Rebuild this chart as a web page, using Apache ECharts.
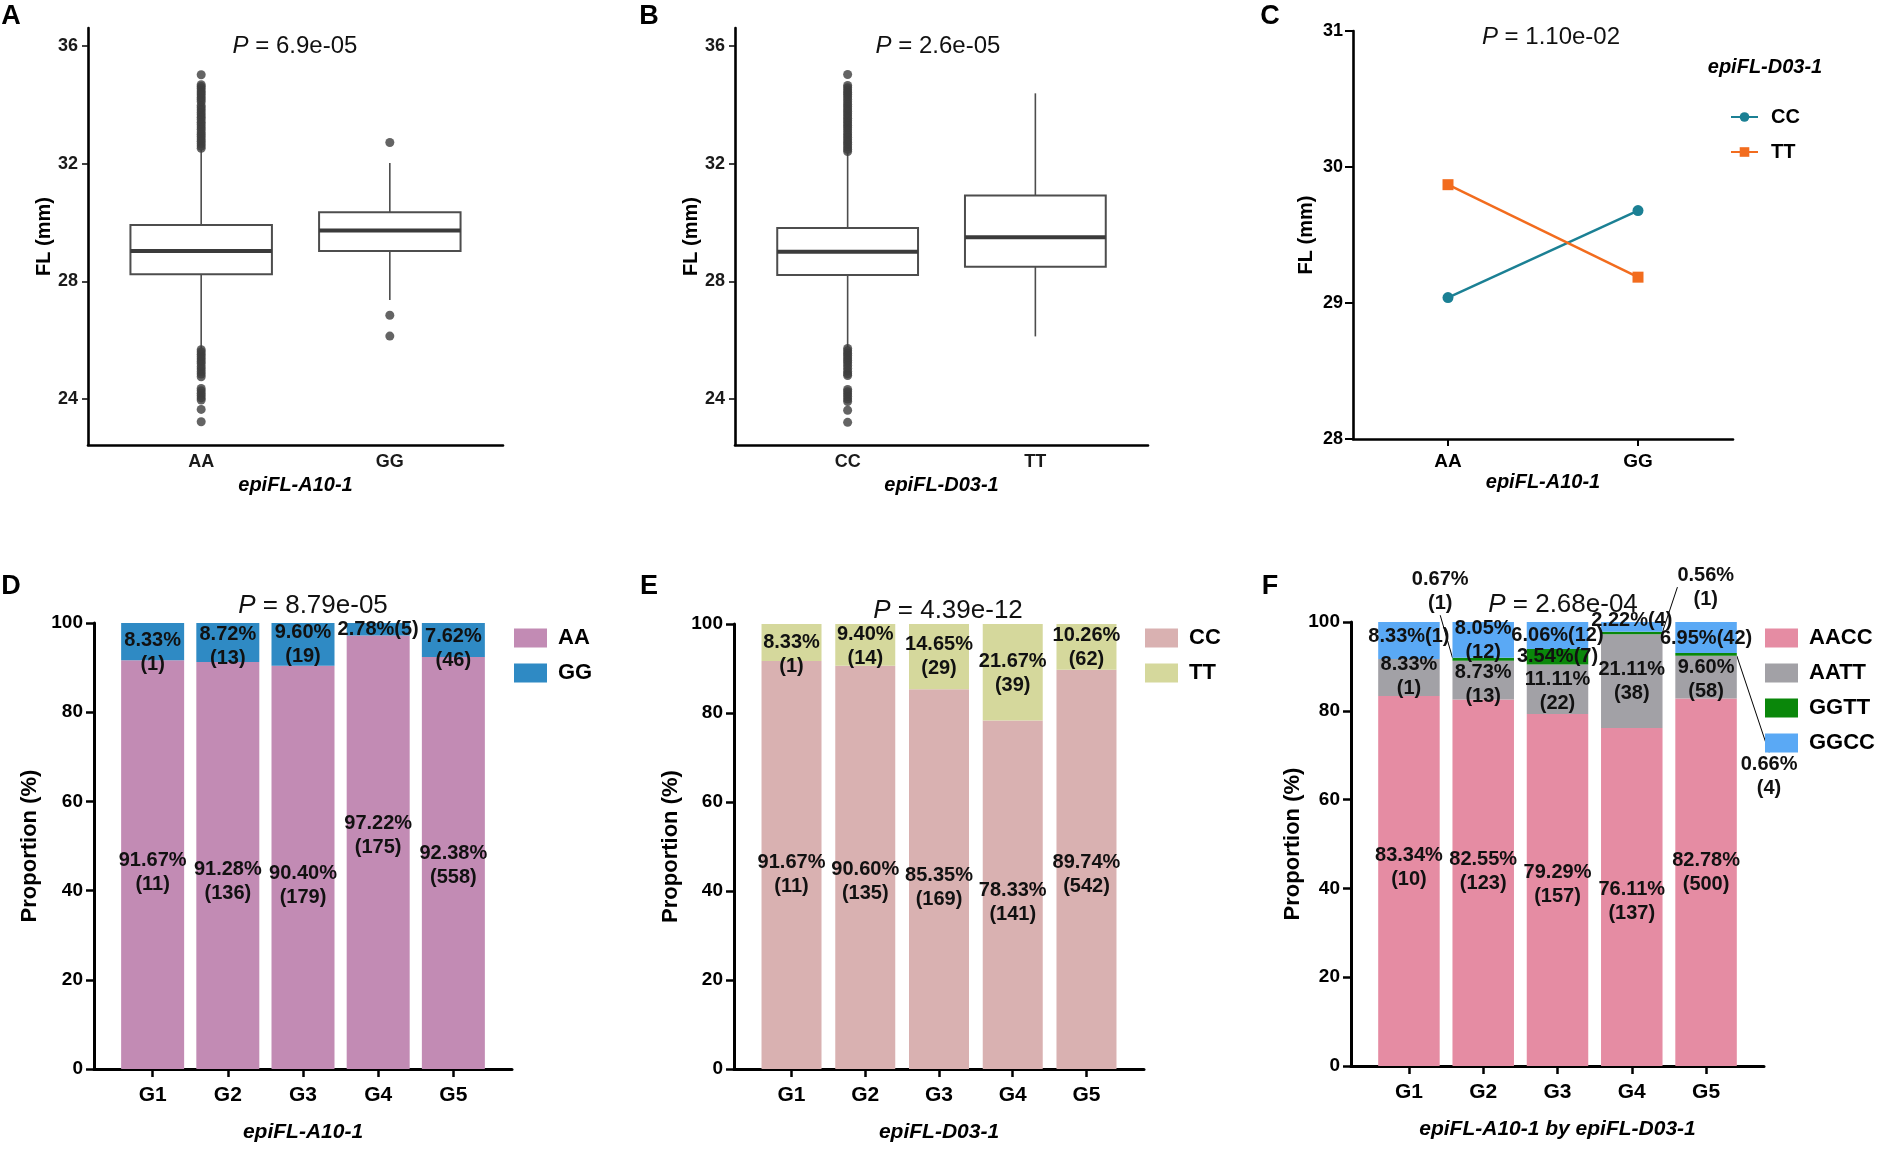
<!DOCTYPE html>
<html>
<head>
<meta charset="utf-8">
<script src="https://cdn.jsdelivr.net/npm/echarts@6/dist/echarts.min.js"></script>
<style>
  html, body { margin: 0; padding: 0; background: #fff; }
  #main { width: 1888px; height: 1152px; }
</style>
</head>
<body>
<div id="main"></div>
<script>
// ---- data ----
// A: FL by epiFL-A10-1 (boxplot stats: min whisker, Q1, median, Q3, max whisker)
const catsA = ['AA', 'GG'];
const boxA = [[25.73, 28.24, 29.03, 29.92, 32.47], [27.37, 29.03, 29.73, 30.35, 32.02]];
const outA_AA = [35.02, 34.68, 34.62, 34.55, 34.47, 34.40, 34.33, 34.25, 34.18, 34.10, 33.98, 33.90, 33.82,
  33.74, 33.66, 33.58, 33.50, 33.41, 33.33, 33.25, 33.17, 33.08, 33.00, 32.92, 32.84, 32.76, 32.68, 32.60, 32.52,
  25.68, 25.60, 25.52, 25.44, 25.36, 25.28, 25.20, 25.10, 25.02, 24.93, 24.85, 24.76,
  24.36, 24.28, 24.20, 24.12, 24.04, 23.97, 23.65, 23.23];
const outA_GG = [32.72, 26.85, 26.14];

// B: FL by epiFL-D03-1
const catsB = ['CC', 'TT'];
const boxB = [[25.77, 28.22, 29.01, 29.81, 32.38], [26.13, 28.50, 29.50, 30.92, 34.39]];
const outB_CC = [35.03, 34.66, 34.58, 34.50, 34.42, 34.35, 34.27, 34.19, 34.10, 34.02, 33.94, 33.86, 33.78,
  33.70, 33.62, 33.54, 33.46, 33.38, 33.30, 33.22, 33.14, 33.05, 32.97, 32.89, 32.81, 32.73, 32.65, 32.57, 32.49, 32.41,
  25.72, 25.64, 25.56, 25.48, 25.40, 25.32, 25.24, 25.15, 25.05, 24.95, 24.86, 24.80,
  24.33, 24.25, 24.17, 24.09, 24.00, 23.92, 23.62, 23.21];
const outB_TT = [];

// C: interaction means
const catsC = ['AA', 'GG'];
const meanCC = [29.04, 29.68];
const meanTT = [29.87, 29.19];

// D-F: proportions by group
const groups = ['G1', 'G2', 'G3', 'G4', 'G5'];
const pctAA = [91.67, 91.28, 90.40, 97.22, 92.38];
const cntAA = [11, 136, 179, 175, 558];
const pctGG = [8.33, 8.72, 9.60, 2.78, 7.62];
const cntGG = [1, 13, 19, 5, 46];

const pctCC = [91.67, 90.60, 85.35, 78.33, 89.74];
const cntCC = [11, 135, 169, 141, 542];
const pctTT = [8.33, 9.40, 14.65, 21.67, 10.26];
const cntTT = [1, 14, 29, 39, 62];

const pctAACC = [83.34, 82.55, 79.29, 76.11, 82.78];
const cntAACC = [10, 123, 157, 137, 500];
const pctAATT = [8.33, 8.73, 11.11, 21.11, 9.60];
const cntAATT = [1, 13, 22, 38, 58];
const pctGGTT = [0, 0.67, 3.54, 0.56, 0.66];
const cntGGTT = [0, 1, 7, 1, 4];
const pctGGCC = [8.33, 8.05, 6.06, 2.22, 6.95];
const cntGGCC = [1, 12, 12, 4, 42];

const pValues = ['6.9e-05', '2.6e-05', '1.10e-02', '8.79e-05', '4.39e-12', '2.68e-04'];

// ---- helpers ----
const FONT = "'Liberation Sans', Arial, Helvetica, sans-serif";
const xs = groups.map((g, i) => i + 1);
const X_MIN = 0.22, X_MAX = 5.78;

const chart = echarts.init(document.getElementById('main'), null, { renderer: 'canvas' });

function boxRows(stats) {
  return stats.map((s, i) => [i + 1].concat(s));
}
function outRows(x, vals) {
  return vals.map(v => [x, v]);
}
function renderBox(params, api) {
  const x = api.value(0);
  const lo = api.coord([x, api.value(1)]);
  const q1 = api.coord([x, api.value(2)]);
  const md = api.coord([x, api.value(3)]);
  const q3 = api.coord([x, api.value(4)]);
  const hi = api.coord([x, api.value(5)]);
  const half = api.size([0.75, 0])[0] / 2;
  const wStyle = { stroke: '#4d4d4d', lineWidth: 1.6 };
  return {
    type: 'group',
    children: [
      { type: 'line', shape: { x1: lo[0], y1: lo[1], x2: q1[0], y2: q1[1] }, style: wStyle },
      { type: 'line', shape: { x1: q3[0], y1: q3[1], x2: hi[0], y2: hi[1] }, style: wStyle },
      { type: 'rect', shape: { x: q3[0] - half, y: q3[1], width: half * 2, height: q1[1] - q3[1] },
        style: { fill: '#fff', stroke: '#4d4d4d', lineWidth: 2 } },
      { type: 'line', shape: { x1: md[0] - half, y1: md[1], x2: md[0] + half, y2: md[1] },
        style: { stroke: '#3b3b3b', lineWidth: 4 } }
    ]
  };
}
function pctLabel(pcts, counts, oneLine) {
  return p => {
    const i = p.dataIndex;
    if (!pcts[i]) return '';
    const a = pcts[i].toFixed(2) + '%';
    const b = '(' + counts[i] + ')';
    return oneLine.indexOf(i) >= 0 ? a + b : a + '\n' + b;
  };
}
const barLabelBase = {
  show: true, position: 'inside', color: '#111', fontFamily: FONT, fontWeight: 'bold',
  fontSize: 20, lineHeight: 24, textBorderWidth: 0
};
// vertical nudges (px) that put each bar label where the original figure has it
const nudge = {
  AA: [8, 16, 18, -17, 2], GG: [11, 4, 0, 0, 8],
  CC: [9, 14, 8, 8, 5], TT: [12, 2, 0, 1, 1],
  AACC: [-14, -11, -5, 4, -10], AATT: [-1, 4, 2, 0, 2], GGCC: [-4, 1, 0, -6, 1]
};
// callout shifts for the tiny GGTT segments in F
const calloutShift = { 1: [-43, -68], 3: [74, -46], 4: [63, 122] };
function nudgeLayout(key) {
  return p => {
    const c = calloutShift[p.dataIndex];
    if (key === 'GGTT') return c ? { dx: c[0], dy: c[1] } : {};
    return { dy: (nudge[key] || [])[p.dataIndex] || 0 };
  };
}
// bars live on a hidden category grid (index 6..8) laid over the visible panel grid
function barSeries(name, key, axis, stack, pcts, counts, color, width, oneLine, extra) {
  return Object.assign({
    type: 'bar', name: name, xAxisIndex: axis, yAxisIndex: axis, stack: stack,
    barWidth: width,
    data: pcts.slice(),
    itemStyle: { color: color },
    label: Object.assign({}, barLabelBase, { formatter: pctLabel(pcts, counts, oneLine) }),
    labelLayout: nudgeLayout(key),
    emphasis: { disabled: true }
  }, extra || {});
}

const tickStyle = { color: '#111', width: 1.6 };
function boxYAxis(idx) {
  return {
    gridIndex: idx, type: 'value', min: 22.44, max: 36.61,
    name: 'FL (mm)', nameLocation: 'middle', nameGap: 34,
    nameTextStyle: { fontFamily: FONT, fontWeight: 'bold', fontSize: 20, color: '#000' },
    axisLine: { show: true, onZero: false, lineStyle: { color: '#000', width: 2.6 } },
    axisTick: { show: true, length: 6, customValues: [24, 28, 32, 36], lineStyle: tickStyle },
    axisLabel: { customValues: [24, 28, 32, 36], fontFamily: FONT, fontWeight: 'bold', fontSize: 18, color: '#1a1a1a', margin: 10 },
    splitLine: { show: false }
  };
}
function boxXAxis(idx, cats, title) {
  return {
    gridIndex: idx, type: 'value', min: 0.4, max: 2.6,
    name: title, nameLocation: 'middle', nameGap: 30,
    nameTextStyle: { fontFamily: FONT, fontWeight: 'bold', fontStyle: 'italic', fontSize: 20, color: '#000' },
    axisLine: { show: true, onZero: false, lineStyle: { color: '#000', width: 2.6 } },
    axisTick: { show: false },
    axisLabel: { customValues: [1, 2], formatter: v => cats[Math.round(v) - 1], fontFamily: FONT, fontWeight: 'bold', fontSize: 18, color: '#1a1a1a', margin: 8 },
    splitLine: { show: false }
  };
}
function barYAxis(idx, gap) {
  return {
    gridIndex: idx, type: 'value', min: 0, max: 100, interval: 20,
    name: 'Proportion (%)', nameLocation: 'middle', nameGap: gap,
    nameTextStyle: { fontFamily: FONT, fontWeight: 'bold', fontSize: 22, color: '#000' },
    axisLine: { show: true, onZero: false, lineStyle: { color: '#000', width: 3 } },
    axisTick: { show: true, length: 8, lineStyle: { color: '#000', width: 2.5 } },
    axisLabel: { fontFamily: FONT, fontWeight: 'bold', fontSize: 19, color: '#000', margin: 11 },
    splitLine: { show: false }
  };
}
function barXAxis(idx, title) {
  return {
    gridIndex: idx, type: 'value', min: X_MIN, max: X_MAX,
    name: title, nameLocation: 'middle', nameGap: 53,
    nameTextStyle: { fontFamily: FONT, fontWeight: 'bold', fontStyle: 'italic', fontSize: 21, color: '#000' },
    axisLine: { show: true, onZero: false, lineStyle: { color: '#000', width: 3 } },
    axisTick: { show: true, length: 8, customValues: xs, lineStyle: { color: '#000', width: 2.5 } },
    axisLabel: { customValues: xs, formatter: v => groups[Math.round(v) - 1], fontFamily: FONT, fontWeight: 'bold', fontSize: 21, color: '#000', margin: 16 },
    splitLine: { show: false }
  };
}
function legendBox(left, names, colors) {
  return {
    left: left, top: 622, orient: 'vertical', icon: 'rect',
    itemWidth: 33, itemHeight: 19, itemGap: 13,
    data: names.map((n, i) => ({ name: n, itemStyle: { color: colors[i] } })),
    formatter: n => n.replace('E:', ''),
    selectedMode: false,
    textStyle: { fontFamily: FONT, fontWeight: 'bold', fontSize: 22, color: '#000', lineHeight: 19, padding: [0, 0, 0, 6] }
  };
}
function pText(x, y, val, size) {
  return {
    type: 'text', x: x, y: y,
    style: {
      text: '{i|P}{n| = ' + val + '}',
      align: 'center', verticalAlign: 'middle', textAlign: 'center', textVerticalAlign: 'middle',
      rich: {
        i: { fontStyle: 'italic', fontSize: size, fontFamily: FONT, fill: '#111' },
        n: { fontSize: size, fontFamily: FONT, fill: '#111' }
      }
    }
  };
}
function letter(x, y, t) {
  return {
    type: 'text', x: x, y: y,
    style: { text: t, font: 'bold 27px ' + FONT, fill: '#000', align: 'center', verticalAlign: 'middle',
      textAlign: 'center', textVerticalAlign: 'middle' }
  };
}

// visible panel grids for the bar charts, and the matching inner grid holding the bars
const barPanels = [
  { left: 94, width: 418, top: 623, bottom: 83 },
  { left: 734, width: 410, top: 624, bottom: 83 },
  { left: 1351, width: 413, top: 622, bottom: 86 }
];
function innerGrid(g) {
  const unit = g.width / (X_MAX - X_MIN);
  return { left: g.left + (1 - X_MIN - 0.5) * unit, width: groups.length * unit, top: g.top, bottom: g.bottom };
}
function hiddenCat(idx) {
  return { gridIndex: idx, type: 'category', data: groups, show: false, boundaryGap: true };
}
function hiddenVal(idx) {
  return { gridIndex: idx, type: 'value', min: 0, max: 100, show: false, splitLine: { show: false } };
}

// colours
const colAA = '#c28bb4', colGG = '#2f8ac4';
const colCC = '#d9b1b1', colTT = '#d5d89c';
const colAACC = '#e58ca3', colAATT = '#a2a1a6', colGGTT = '#0a870a', colGGCC = '#5aa9f5';
const lineCC = '#1b8094', lineTT = '#f26c1e';

const option = {
  backgroundColor: '#fff',
  animation: false,
  grid: [
    { left: 88, width: 415, top: 28, bottom: 707 },
    { left: 735, width: 413, top: 28, bottom: 707 },
    { left: 1353, width: 380, top: 31, bottom: 713 },
    barPanels[0], barPanels[1], barPanels[2],
    innerGrid(barPanels[0]), innerGrid(barPanels[1]), innerGrid(barPanels[2])
  ],
  xAxis: [
    boxXAxis(0, catsA, 'epiFL-A10-1'),
    boxXAxis(1, catsB, 'epiFL-D03-1'),
    {
      gridIndex: 2, type: 'category', data: catsC, boundaryGap: true,
      name: 'epiFL-A10-1', nameLocation: 'middle', nameGap: 33,
      nameTextStyle: { fontFamily: FONT, fontWeight: 'bold', fontStyle: 'italic', fontSize: 20, color: '#000' },
      axisLine: { show: true, onZero: false, lineStyle: { color: '#000', width: 2.6 } },
      axisTick: { show: true, alignWithLabel: true, length: 7, lineStyle: { color: '#000', width: 2 } },
      axisLabel: { fontFamily: FONT, fontWeight: 'bold', fontSize: 19, color: '#000', margin: 13 },
      splitLine: { show: false }
    },
    barXAxis(3, 'epiFL-A10-1'),
    barXAxis(4, 'epiFL-D03-1'),
    barXAxis(5, 'epiFL-A10-1 by epiFL-D03-1'),
    hiddenCat(6), hiddenCat(7), hiddenCat(8)
  ],
  yAxis: [
    boxYAxis(0),
    boxYAxis(1),
    {
      gridIndex: 2, type: 'value', min: 28, max: 31, interval: 1,
      name: 'FL (mm)', nameLocation: 'middle', nameGap: 37,
      nameTextStyle: { fontFamily: FONT, fontWeight: 'bold', fontSize: 20, color: '#000' },
      axisLine: { show: true, onZero: false, lineStyle: { color: '#000', width: 2.6 } },
      axisTick: { show: true, length: 8, lineStyle: { color: '#000', width: 2 } },
      axisLabel: { fontFamily: FONT, fontWeight: 'bold', fontSize: 18, color: '#000', margin: 10 },
      splitLine: { show: false }
    },
    barYAxis(3, 53),
    barYAxis(4, 52),
    barYAxis(5, 47),
    hiddenVal(6), hiddenVal(7), hiddenVal(8)
  ],
  legend: [
    {
      left: 1725, top: 102, orient: 'vertical', itemWidth: 27, itemHeight: 12, itemGap: 15,
      data: ['CC', 'TT'], selectedMode: false,
      textStyle: { fontFamily: FONT, fontWeight: 'bold', fontSize: 20, color: '#000', lineHeight: 20, padding: [0, 0, 0, 8] }
    },
    legendBox(509, ['AA', 'GG'], [colAA, colGG]),
    legendBox(1140, ['E:CC', 'E:TT'], [colCC, colTT]),
    legendBox(1760, ['AACC', 'AATT', 'GGTT', 'GGCC'], [colAACC, colAATT, colGGTT, colGGCC])
  ],
  graphic: [
    letter(11, 17, 'A'), letter(649, 17, 'B'), letter(1270, 17, 'C'),
    letter(11, 587, 'D'), letter(649, 587, 'E'), letter(1270, 587, 'F'),
    pText(295, 46, pValues[0], 24), pText(938, 46, pValues[1], 24), pText(1551, 37, pValues[2], 24),
    pText(313, 606, pValues[3], 26), pText(948, 611, pValues[4], 26), pText(1563, 605, pValues[5], 26),
    {
      type: 'text', x: 1765, y: 67,
      style: { text: 'epiFL-D03-1', font: 'italic bold 20px ' + FONT, fill: '#000', align: 'center', verticalAlign: 'middle',
        textAlign: 'center', textVerticalAlign: 'middle' }
    }
  ],
  series: [
    // A
    { type: 'custom', name: 'boxA', xAxisIndex: 0, yAxisIndex: 0, renderItem: renderBox,
      encode: { x: 0, y: [1, 2, 3, 4, 5] }, data: boxRows(boxA), z: 2 },
    { type: 'scatter', name: 'outA', xAxisIndex: 0, yAxisIndex: 0, symbolSize: 9,
      itemStyle: { color: '#3d3d3d' }, data: outRows(1, outA_AA).concat(outRows(2, outA_GG)), z: 3 },
    // B
    { type: 'custom', name: 'boxB', xAxisIndex: 1, yAxisIndex: 1, renderItem: renderBox,
      encode: { x: 0, y: [1, 2, 3, 4, 5] }, data: boxRows(boxB), z: 2 },
    { type: 'scatter', name: 'outB', xAxisIndex: 1, yAxisIndex: 1, symbolSize: 9,
      itemStyle: { color: '#3d3d3d' }, data: outRows(1, outB_CC).concat(outRows(2, outB_TT)), z: 3 },
    // C
    { type: 'line', name: 'CC', xAxisIndex: 2, yAxisIndex: 2, data: meanCC, symbol: 'circle', symbolSize: 11,
      lineStyle: { color: lineCC, width: 2.5 }, itemStyle: { color: lineCC } },
    { type: 'line', name: 'TT', xAxisIndex: 2, yAxisIndex: 2, data: meanTT, symbol: 'rect', symbolSize: 11,
      lineStyle: { color: lineTT, width: 2.5 }, itemStyle: { color: lineTT } },
    // D
    barSeries('AA', 'AA', 6, 'D', pctAA, cntAA, colAA, 63, []),
    barSeries('GG', 'GG', 6, 'D', pctGG, cntGG, colGG, 63, [3]),
    // E
    barSeries('E:CC', 'CC', 7, 'E', pctCC, cntCC, colCC, 60, []),
    barSeries('E:TT', 'TT', 7, 'E', pctTT, cntTT, colTT, 60, []),
    // F
    barSeries('AACC', 'AACC', 8, 'F', pctAACC, cntAACC, colAACC, 61.5, []),
    barSeries('AATT', 'AATT', 8, 'F', pctAATT, cntAATT, colAATT, 61.5, []),
    barSeries('GGTT', 'GGTT', 8, 'F', pctGGTT, cntGGTT, colGGTT, 61.5, [2], {
      data: pctGGTT.map((v, i) => ({ value: v, labelLine: { show: !!calloutShift[i] } })),
      labelLine: { show: false, lineStyle: { color: '#000', width: 1 } }
    }),
    barSeries('GGCC', 'GGCC', 8, 'F', pctGGCC, cntGGCC, colGGCC, 61.5, [0, 2, 3, 4])
  ]
};

chart.setOption(option);
</script>
</body>
</html>
